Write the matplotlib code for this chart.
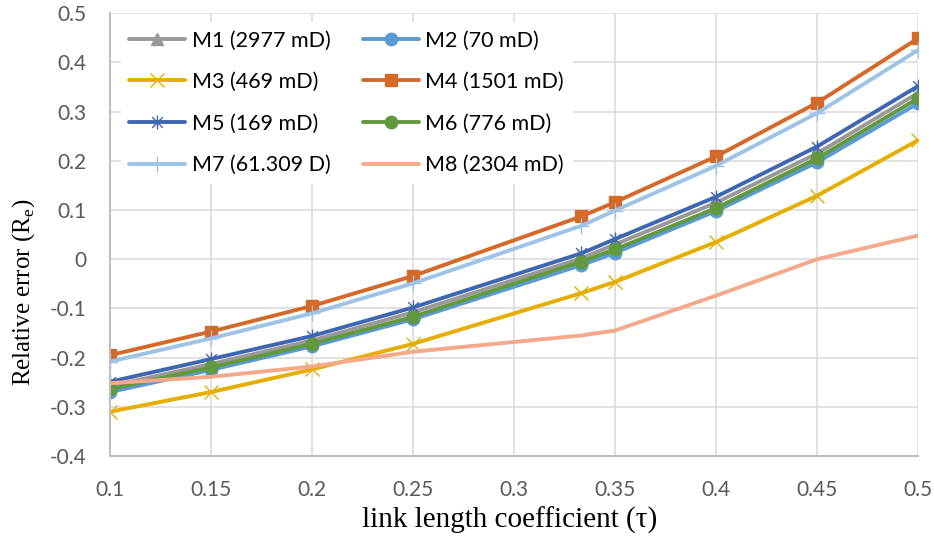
import matplotlib as mpl
mpl.use('agg')

import matplotlib.pyplot as plt
from matplotlib.path import Path
from matplotlib.ticker import FuncFormatter, MultipleLocator

## data
tau = [0.1, 0.15, 0.2, 0.25, 0.3333, 0.35, 0.4, 0.45, 0.5]

m1 = [-0.258, -0.213, -0.165, -0.108, 0.002, 0.030, 0.115, 0.215, 0.338]
m2 = [-0.270, -0.225, -0.177, -0.122, -0.012, 0.013, 0.098, 0.197, 0.317]
m3 = [-0.310, -0.270, -0.224, -0.172, -0.069, -0.046, 0.035, 0.129, 0.242]
m4 = [-0.195, -0.147, -0.095, -0.034, 0.087, 0.116, 0.209, 0.318, 0.449]
m5 = [-0.249, -0.203, -0.156, -0.098, 0.012, 0.041, 0.127, 0.229, 0.352]
m6 = [-0.264, -0.220, -0.172, -0.117, -0.005, 0.020, 0.104, 0.205, 0.327]
m7 = [-0.208, -0.161, -0.110, -0.049, 0.068, 0.099, 0.190, 0.297, 0.425]
m8 = [-0.252, -0.239, -0.218, -0.188, -0.155, -0.145, -0.074, 0.000, 0.048]

labels = ["M1 (2977 mD)", "M2 (70 mD)", "M3 (469 mD)", "M4 (1501 mD)",
          "M5 (169 mD)", "M6 (776 mD)", "M7 (61.309 D)", "M8 (2304 mD)"]

# excel style star: an x with a vertical bar through it
star = Path([(-1, -1), (1, 1), (-1, 1), (1, -1), (0, -1.3), (0, 1.3)],
            [Path.MOVETO, Path.LINETO, Path.MOVETO, Path.LINETO,
             Path.MOVETO, Path.LINETO])

styles = [
    dict(color='#999999', marker='^', ms=9),
    dict(color='#5B9BD5', marker='o', ms=9),
    dict(color='#E5AE00', marker='x', ms=10, mew=1.0),
    dict(color='#D4692A', marker='s', ms=8.5),
    dict(color='#3F67B1', marker=star, ms=10, mew=1.0),
    dict(color='#62993E', marker='o', ms=9),
    dict(color='#9DC3E6', marker='+', ms=12, mew=1.0),
    dict(color='#F4A98A', marker=None),
]


def main():
    fig = plt.figure(figsize=(9.34, 5.45), dpi=100)
    ax = fig.add_axes([0.1178, 0.1633, 0.8651, 0.8123])

    series = [m1, m2, m3, m4, m5, m6, m7, m8]
    lines = []
    for vals, lab, st in zip(series, labels, styles):
        ln, = ax.plot(tau, vals, label=lab, lw=2.8, solid_capstyle='round', **st)
        lines.append(ln)

    ax.set_xlim(0.1, 0.5)
    ax.set_ylim(-0.4, 0.5)
    ax.xaxis.set_major_locator(MultipleLocator(0.05))
    ax.yaxis.set_major_locator(MultipleLocator(0.1))
    fmt = FuncFormatter(lambda v, p: '%g' % round(v, 3))
    ax.xaxis.set_major_formatter(fmt)
    ax.yaxis.set_major_formatter(fmt)

    ax.grid(True, color='#d9d9d9', lw=1.1)
    ax.set_axisbelow(True)
    for side in ['top', 'right']:
        ax.spines[side].set_visible(False)
    for side in ['left', 'bottom']:
        ax.spines[side].set_color('#bfbfbf')
        ax.spines[side].set_linewidth(1.5)

    ax.tick_params(length=0, labelsize=15, labelcolor='#595959')
    ax.tick_params(axis='x', pad=17)
    ax.tick_params(axis='y', pad=17)
    for t in ax.get_xticklabels() + ax.get_yticklabels():
        t.set_family('Lato')

    ax.set_xlabel('link length coefficient (\u03c4)', family='Liberation Serif',
                  fontsize=21)
    ax.set_ylabel('Relative error (R$_\\mathregular{e}$)', family='Liberation Serif',
                  fontsize=18)
    ax.xaxis.set_label_coords(0.495, -0.115)
    ax.yaxis.set_label_coords(-0.09, 0.37)

    # legend is filled row by row in the reference
    order = [0, 2, 4, 6, 1, 3, 5, 7]
    ax.legend([lines[i] for i in order], [labels[i] for i in order],
              ncol=2, loc='upper left', bbox_to_anchor=(0.0, 1.005),
              prop={'family': 'Lato', 'size': 15.5}, frameon=True,
              fancybox=False, edgecolor='none', framealpha=1,
              handlelength=2.6, handletextpad=0.3, columnspacing=1.5,
              labelspacing=1.0, borderpad=0.4)

    fig.savefig('out.png', dpi=100)


if __name__ == "__main__":
    main()
